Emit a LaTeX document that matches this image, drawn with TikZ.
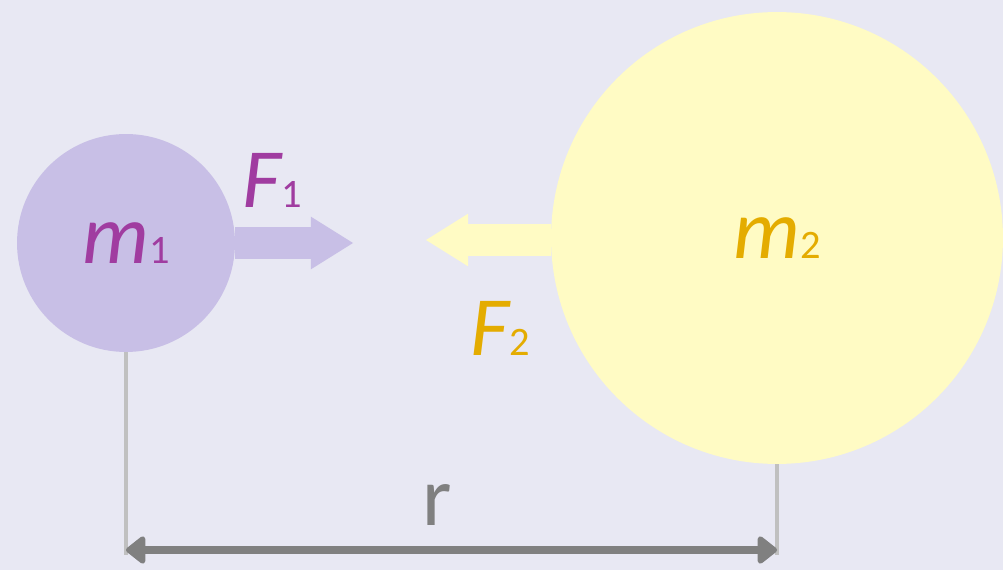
\documentclass[tikz,border=0pt]{standalone}
\usepackage{fontspec}
\setmainfont{Carlito}
\usetikzlibrary{arrows.meta, positioning}
\definecolor{bglilac}{RGB}{232,232,243}
\definecolor{massone}{RGB}{200,191,230}
\definecolor{masstwo}{RGB}{255,251,196}
\definecolor{textone}{RGB}{160,60,160}
\definecolor{texttwo}{RGB}{228,172,0}
\definecolor{dimgray}{RGB}{128,128,128}
\definecolor{extgray}{RGB}{192,192,192}
\newcommand{\lowidx}[1]{{\fontsize{23}{23}\selectfont\upshape #1}}

\begin{document}
\begin{tikzpicture}[
    x=0.02cm, y=-0.02cm,
    every node/.style={font=\fontsize{48}{48}\selectfont},
    mass/.style={circle, inner sep=0pt},
    force/.style={line width=18pt, -{Triangle[length=24pt, width=30pt, line width=0pt]}},
    dimline/.style={line width=4.5pt, color=dimgray, {Triangle[length=12pt, width=18pt, round]}-{Triangle[length=12pt, width=18pt, round]}},
    extline/.style={line width=2.3pt, color=extgray}
]
% background
\fill[bglilac] (0,0) rectangle (1003,570);
\useasboundingbox (0,0) rectangle (1003,570);

% masses
\node[mass, fill=massone, minimum size=4.36cm, text=textone] (m1) at (126,243) {\itshape m\lowidx{1}};
\node[mass, fill=masstwo, minimum size=9.04cm, text=texttwo] (m2) at (777,238) {\itshape m\lowidx{2}};

% forces
\coordinate (f1tip) at (353,243);
\coordinate (f2tip) at (426,240);
\draw[force, massone] (m1.east) -- (f1tip);
\draw[force, masstwo] (m2.west |- f2tip) -- (f2tip);
\node[text=textone] (f1) at (272,180) {\itshape F\lowidx{1}};
\node[text=texttwo] (f2) at (500,328) {\itshape F\lowidx{2}};

% distance
\coordinate (base) at (0,555);
\coordinate (dimy) at (0,550);
\draw[extline] (m1.south) -- (m1.south |- base);
\draw[extline] (m2.south) -- (m2.south |- base);
\draw[dimline] (m1.south |- dimy) -- (m2.south |- dimy);
\node[text=dimgray] (r) at (437,505) {r};
\end{tikzpicture}
\end{document}
